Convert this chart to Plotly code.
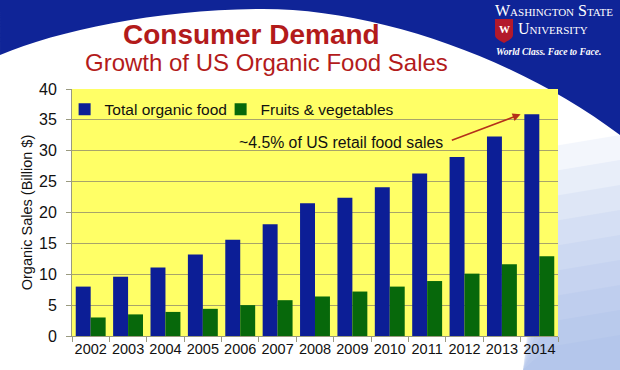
import plotly.graph_objects as go

years = ["2002", "2003", "2004", "2005", "2006", "2007", "2008",
         "2009", "2010", "2011", "2012", "2013", "2014"]
total_organic = [8.0, 9.6, 11.1, 13.2, 15.6, 18.1, 21.5,
                 22.4, 24.1, 26.3, 29.0, 32.3, 35.9]
fruits_veg = [3.0, 3.5, 3.9, 4.4, 5.0, 5.8, 6.4,
              7.2, 8.0, 8.9, 10.1, 11.6, 12.9]
y_ticks = [0, 5, 10, 15, 20, 25, 30, 35, 40]

W, H = 620, 370
L, R, T, B = 72, 62, 89, 34
PW, PH = W - L - R, H - T - B


def px(x):
    return (x - L) / PW


def py(y):
    return (H - B - y) / PH


def path(cmds):
    out = []
    for c in cmds:
        if isinstance(c, str):
            out.append(c)
        else:
            out.append(f"{px(c[0]):.4f},{py(c[1]):.4f}")
    return " ".join(out)


FONT = "Liberation Sans, Arial, sans-serif"
SERIF = "Liberation Serif, Times New Roman, serif"

fig = go.Figure()
fig.add_trace(go.Bar(name="Total organic food", x=years, y=total_organic,
                     marker=dict(color="#0c1e96", line=dict(width=0)), legend="legend"))
fig.add_trace(go.Bar(name="Fruits & vegetables", x=years, y=fruits_veg,
                     marker=dict(color="#07680b", line=dict(width=0)), legend="legend2"))

shapes = []
# blue banner with white arch
shapes.append(dict(type="path", xref="paper", yref="paper", layer="below",
                   line=dict(width=0), fillcolor="#0f2497",
                   path=path(["M", (0, 0), "L", (620, 0), "L", (620, 135),
                              "C", (520, 60), (380, 9), (263, 9),
                              "C", (160, 9), (60, 30), (0, 55), "Z"])))
# light blue gradient bottom right (stacked translucent layers)
for i in range(9):
    ytop = 135 + i * 25
    shapes.append(dict(type="path", xref="paper", yref="paper", layer="below",
                       line=dict(width=0), fillcolor="#86a4df", opacity=0.1,
                       path=path(["M", (523, 370), "L", (548, ytop + 12),
                                  "L", (620, ytop), "L", (620, 370), "Z"])))
# plot area yellow
shapes.append(dict(type="rect", xref="paper", yref="paper", layer="below",
                   x0=0, x1=1, y0=0, y1=1, line=dict(width=0), fillcolor="#ffff66"))
# crest shield
shapes.append(dict(type="path", xref="paper", yref="paper", layer="above",
                   line=dict(width=0), fillcolor="#b3192b",
                   path=path(["M", (495, 19), "L", (513, 19), "L", (513, 35),
                              "C", (513, 39), (507, 41), (504, 43),
                              "C", (501, 41), (495, 39), (495, 35), "Z"])))

annotations = [
    dict(text="<b>Consumer Demand</b>", xref="paper", yref="paper",
         x=px(251), y=py(35), xanchor="center", yanchor="middle", showarrow=False,
         font=dict(family=FONT, size=28, color="#b31b1b")),
    dict(text="Growth of US Organic Food Sales", xref="paper", yref="paper",
         x=px(266), y=py(63), xanchor="center", yanchor="middle", showarrow=False,
         font=dict(family=FONT, size=24, color="#b31b1b")),
    dict(text="Washington State", xref="paper", yref="paper",
         x=px(615), y=py(11), xanchor="right", yanchor="middle", showarrow=False,
         font=dict(family=SERIF, size=16, color="white", variant="small-caps")),
    dict(text="University", xref="paper", yref="paper",
         x=px(516), y=py(29), xanchor="left", yanchor="middle", showarrow=False,
         font=dict(family=SERIF, size=16, color="white", variant="small-caps")),
    dict(text="<b><i>World Class. Face to Face.</i></b>", xref="paper", yref="paper",
         x=px(548), y=py(52), xanchor="center", yanchor="middle", showarrow=False,
         font=dict(family=SERIF, size=9.5, color="white")),
    dict(text="<b>W</b>", xref="paper", yref="paper",
         x=px(504), y=py(29), xanchor="center", yanchor="middle", showarrow=False,
         font=dict(family=SERIF, size=11, color="white")),
    dict(text="~4.5% of US retail food sales", x=6.69, y=31.4, xref="x", yref="y",
         xanchor="center", yanchor="middle", showarrow=False,
         font=dict(family=FONT, size=15.8, color="#111111")),
    dict(text="", x=11.5, y=35.9, ax=9.62, ay=31.6, xref="x", yref="y",
         axref="x", ayref="y", showarrow=True, arrowhead=2, arrowsize=1,
         arrowwidth=1.6, arrowcolor="#b5301a"),
]

legend_style = dict(orientation="h", y=0.985, xanchor="left", yanchor="top",
                    bgcolor="rgba(0,0,0,0)", itemwidth=30,
                    font=dict(family=FONT, size=15.5, color="#111111"))

fig.update_layout(
    width=W, height=H,
    margin=dict(l=L, r=R, t=T, b=B, pad=0, autoexpand=False),
    paper_bgcolor="white", plot_bgcolor="rgba(0,0,0,0)",
    barmode="group", bargap=0.2, bargroupgap=0,
    font=dict(family=FONT, size=15, color="#111111"),
    shapes=shapes, annotations=annotations,
    showlegend=True,
    legend=dict(x=-0.0152, **legend_style),
    legend2=dict(x=0.3058, **legend_style),
    xaxis=dict(type="category", showgrid=False, showline=True, linecolor="#9a9a80",
               linewidth=1, ticks="outside", tickson="boundaries", ticklen=5,
               tickcolor="#9a9a80", tickangle=0, automargin=False,
               tickfont=dict(family=FONT, size=14.5, color="#111111")),
    yaxis=dict(range=[0, 40], tickvals=y_ticks, showgrid=True, gridcolor="#a8a46a",
               gridwidth=1, showline=True, linecolor="#9a9a80", ticks="outside",
               ticklen=5, tickcolor="#9a9a80", zeroline=False, automargin=False,
               ticklabelstandoff=6,
               tickfont=dict(family=FONT, size=16, color="#111111"),
               title=dict(text="Organic Sales (Billion $)", standoff=2,
                          font=dict(family=FONT, size=14.5, color="#111111"))),
)

fig.write_html("out.html", config={"displayModeBar": False},
               post_script="document.body.style.margin='0';document.body.style.padding='0';")
